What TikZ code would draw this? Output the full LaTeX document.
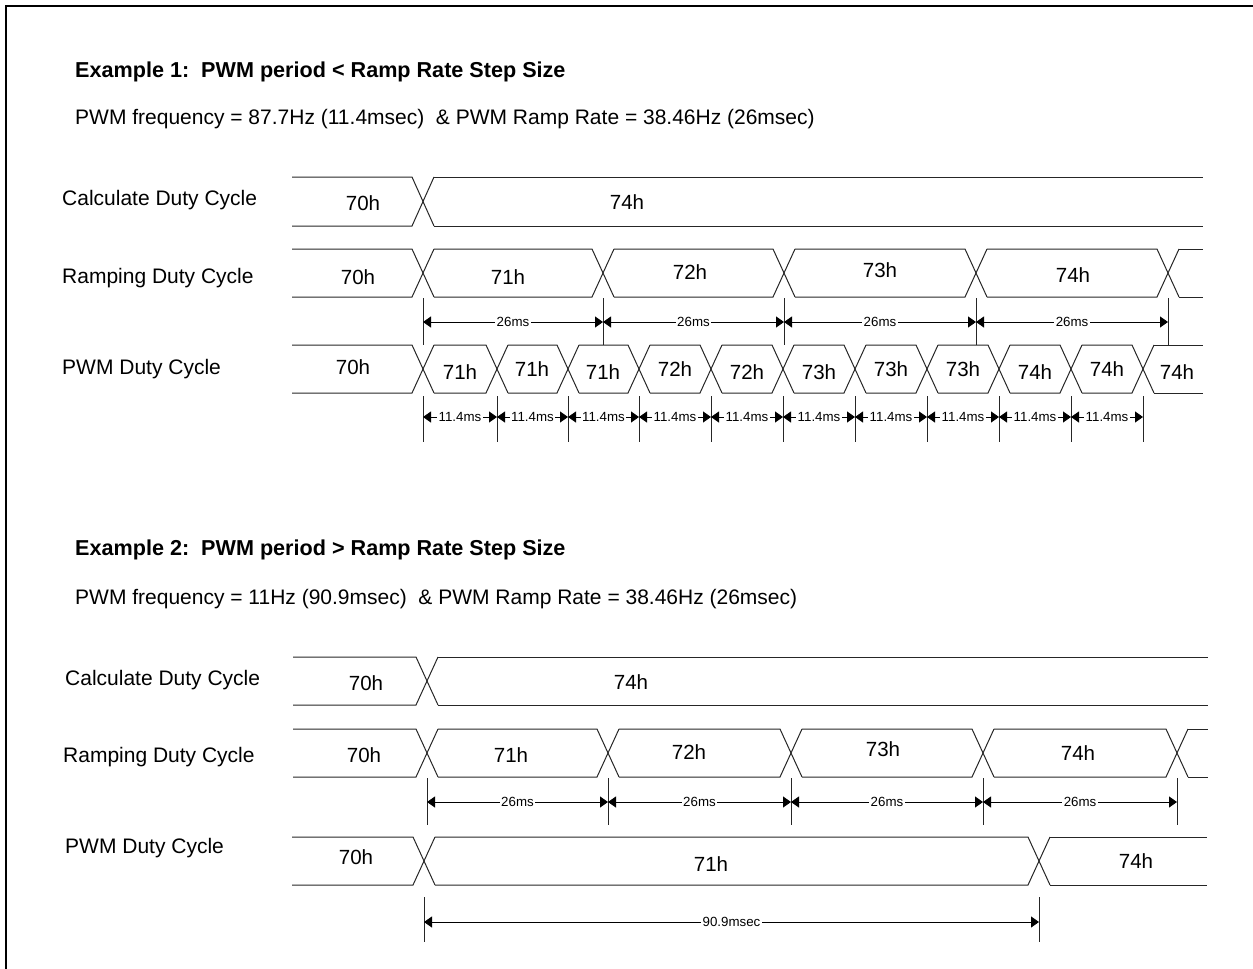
\documentclass[tikz,border=0pt]{standalone}
\usepackage{fontspec}
\setmainfont{Liberation Sans}
\usetikzlibrary{arrows.meta}
\newcommand\hw{11}
% #1 top y, #2 bottom y, #3 start x, #4 end x, #5 crossing x list
\newcommand\wavebus[5]{%
  \xdef\wprev{#3}\xdef\wprevh{0}%
  \foreach \c in {#5}{%
    \draw[wave] (\wprev+\wprevh,#1) -- (\c-\hw,#1) -- (\c+\hw,#2);
    \draw[wave] (\wprev+\wprevh,#2) -- (\c-\hw,#2) -- (\c+\hw,#1);
    \xdef\wprev{\c}\xdef\wprevh{\hw}%
  }%
  \draw[wave] (\wprev+\wprevh,#1) -- (#4,#1);
  \draw[wave] (\wprev+\wprevh,#2) -- (#4,#2);
}
\begin{document}
\begin{tikzpicture}[x=1pt,y=-1pt,
  wave/.style={line width=1pt,line join=miter,draw=black!85},
  tickln/.style={line width=0.9pt,draw=black!85},
  dim/.style={{Triangle[length=8pt,width=11pt]}-{Triangle[length=8pt,width=11pt]},line width=0.9pt},
  dimlbl/.style={fill=white,inner sep=1.5pt,font=\fontsize{13.3}{15}\selectfont},
  lbl/.style={inner sep=0pt,anchor=base west,font=\fontsize{21}{25}\selectfont},
  ttl/.style={inner sep=0pt,anchor=base west,font=\fontsize{21.6}{25}\selectfont\bfseries},
  val/.style={inner sep=0pt,font=\fontsize{20.5}{24}\selectfont}]
\useasboundingbox (0,0) rectangle (1253,969);
% frame
\draw[line width=2.3pt] (6,969) -- (6,6) -- (1253,6);

% ================= Example 1 =================
\node[ttl] (t1) at (75,77) {Example 1:\ \ PWM period < Ramp Rate Step Size};
\node[lbl] (s1) at (75,124) {PWM frequency = 87.7Hz (11.4msec)\ \ \& PWM Ramp Rate = 38.46Hz (26msec)};
\node[lbl] (l1a) at (62,205) {Calculate Duty Cycle};
\node[lbl] (l1b) at (62,283) {Ramping Duty Cycle};
\node[lbl] (l1c) at (62,374) {PWM Duty Cycle};

\wavebus{177}{226}{292}{1203}{423}
\wavebus{249}{297}{292}{1203}{423,603,784,976,1168}
\wavebus{345}{393}{292}{1203}{423,497,568,639,711,783,855,927,999,1071,1143}

\node[val] (v1a1) at (363,203) {70h};
\node[val] (v1a2) at (627,202) {74h};
\node[val] (v1b1) at (358,277) {70h};
\node[val] (v1b2) at (508,277) {71h};
\node[val] (v1b3) at (690,272) {72h};
\node[val] (v1b4) at (880,270) {73h};
\node[val] (v1b5) at (1073,275) {74h};
\node[val] (v1c0) at (353,367) {70h};
\foreach \x/\y/\t [count=\i] in {460/372/71h,532/369/71h,603/372/71h,675/369/72h,747/372/72h,819/372/73h,891/369/73h,963/369/73h,1035/372/74h,1107/369/74h,1177/372/74h}
  \node[val] (v1c\i) at (\x,\y) {\t};

% 26ms dimensions
\foreach \x [count=\i] in {423,603,784,976,1168}{
  \coordinate (ra\i) at (\x,322);
  \draw[tickln] (\x,298) -- (\x,345);
}
\foreach \i [evaluate=\i as \j using int(\i+1)] in {1,...,4}
  \draw[dim] (ra\i) -- node[dimlbl] (rl\i) {26ms} (ra\j);

% 11.4ms dimensions
\foreach \x [count=\i] in {423,497,568,639,711,783,855,927,999,1071,1143}{
  \coordinate (pa\i) at (\x,417);
  \draw[tickln] (\x,396) -- (\x,442);
}
\foreach \i [evaluate=\i as \j using int(\i+1)] in {1,...,10}
  \draw[dim] (pa\i) -- node[dimlbl] (pl\i) {11.4ms} (pa\j);

% ================= Example 2 =================
\node[ttl] (t2) at (75,555) {Example 2:\ \ PWM period > Ramp Rate Step Size};
\node[lbl] (s2) at (75,604) {PWM frequency = 11Hz (90.9msec)\ \ \& PWM Ramp Rate = 38.46Hz (26msec)};
\node[lbl] (l2a) at (65,685) {Calculate Duty Cycle};
\node[lbl] (l2b) at (63,762) {Ramping Duty Cycle};
\node[lbl] (l2c) at (65,853) {PWM Duty Cycle};

\wavebus{657}{705}{293}{1208}{427}
\wavebus{729}{777}{293}{1208}{427,608,791,983,1177}
\wavebus{837}{885}{292}{1207}{424,1039}

\node[val] (v2a1) at (366,683) {70h};
\node[val] (v2a2) at (631,682) {74h};
\node[val] (v2b1) at (364,755) {70h};
\node[val] (v2b2) at (511,755) {71h};
\node[val] (v2b3) at (689,752) {72h};
\node[val] (v2b4) at (883,749) {73h};
\node[val] (v2b5) at (1078,753) {74h};
\node[val] (v2c1) at (356,857) {70h};
\node[val] (v2c2) at (711,864) {71h};
\node[val] (v2c3) at (1136,861) {74h};

\foreach \x [count=\i] in {427,608,791,983,1177}{
  \coordinate (rb\i) at (\x,802);
  \draw[tickln] (\x,778) -- (\x,825);
}
\foreach \i [evaluate=\i as \j using int(\i+1)] in {1,...,4}
  \draw[dim] (rb\i) -- node[dimlbl] (rm\i) {26ms} (rb\j);

\coordinate (qa1) at (424,922);
\coordinate (qa2) at (1039,922);
\draw[tickln] (424,897) -- (424,942);
\draw[tickln] (1039,897) -- (1039,942);
\draw[dim] (qa1) -- node[dimlbl] (ql) {90.9msec} (qa2);
\end{tikzpicture}
\end{document}
